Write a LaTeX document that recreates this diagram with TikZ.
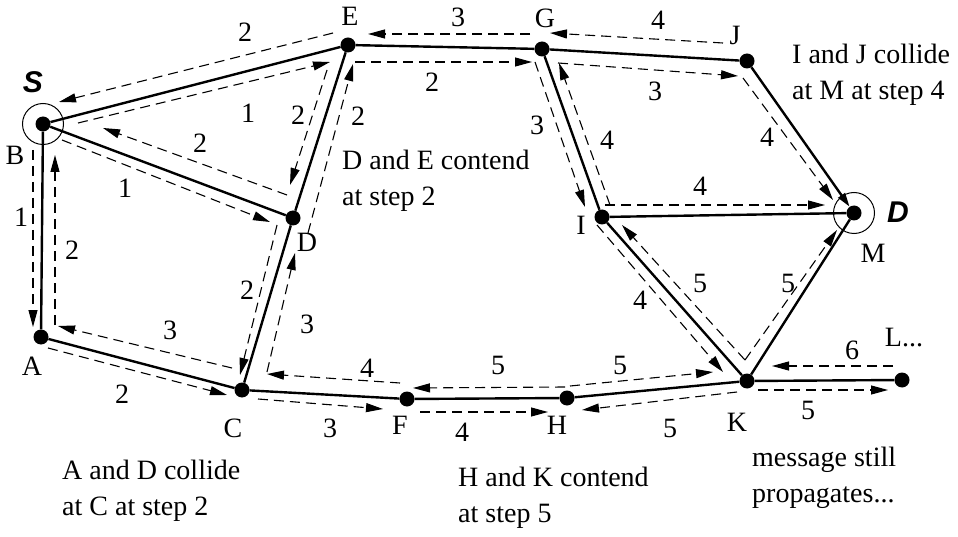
\documentclass[tikz,border=0pt]{standalone}
\usepackage{fontspec}
\setmainfont{Liberation Serif}
\setsansfont{Liberation Sans}
\usetikzlibrary{arrows.meta}

\begin{document}
\begin{tikzpicture}[x=1pt,y=-1pt,
  every node/.style={font=\fontsize{28}{34}\selectfont},
  vtx/.style={circle,fill=black,inner sep=0pt,minimum size=15pt},
  ring/.style={circle,draw,line width=1pt,inner sep=0pt,minimum size=41pt},
  link/.style={line width=2.4pt},
  msg/.style={line width=1.1pt,dash pattern=on 10pt off 6pt,
              -{Triangle[length=17pt,width=9pt]}},
  lbl/.style={inner sep=0pt},
  note/.style={inner sep=0pt,anchor=base west},
  endpt/.style={font=\fontsize{30}{36}\sffamily\bfseries\itshape,inner sep=0pt}
]
\useasboundingbox (0,0) rectangle (958,537);

% ---- vertices ----
\node[vtx] (B) at (43,124) {};
\node[vtx] (E) at (348,45) {};
\node[vtx] (D) at (293,218) {};
\node[vtx] (A) at (41,337) {};
\node[vtx] (C) at (242,390) {};
\node[vtx] (F) at (407,399) {};
\node[vtx] (H) at (567,398) {};
\node[vtx] (K) at (747,381) {};
\node[vtx] (L) at (902,380) {};
\node[vtx] (M) at (854,213) {};
\node[vtx] (I) at (602,217) {};
\node[vtx] (G) at (542,49) {};
\node[vtx] (J) at (747,61) {};
\node[ring] (Bring) at (B) {};
\node[ring] (Mring) at (M) {};

% ---- links ----
\draw[link] (B) -- (E);
\draw[link] (B) -- (D);
\draw[link] (B) -- (A);
\draw[link] (A) -- (C);
\draw[link] (C) -- (D);
\draw[link] (D) -- (E);
\draw[link] (E) -- (G);
\draw[link] (G) -- (J);
\draw[link,-{Triangle[length=14pt,width=8pt]}] (J) -- (M);
\draw[link] (G) -- (I);
\draw[link] (I) -- (M);
\draw[link] (I) -- (K);
\draw[link] (K) -- (M);
\draw[link] (C) -- (F);
\draw[link] (F) -- (H);
\draw[link] (H) -- (K);
\draw[link] (K) -- (L);

% ---- message transmissions ----
\draw[msg] ([shift={(-15,-12)}]E.center) -- ([shift={(16,-22)}]B.center);
\draw[msg] ([shift={(35,-1)}]B.center) -- ([shift={(-18,17)}]E.center);
\draw[msg] ([shift={(-6,-23)}]D.center) -- ([shift={(60,4)}]B.center);
\draw[msg] ([shift={(19,16)}]B.center) -- ([shift={(-23,4)}]D.center);
\draw[msg] ([shift={(-21,25)}]E.center) -- ([shift={(-3,-33)}]D.center);
\draw[msg] ([shift={(15,15)}]D.center) -- ([shift={(5,19)}]E.center);
\draw[msg] ([shift={(7,17)}]E.center) -- ([shift={(-10,13)}]G.center);
\draw[msg] ([shift={(-12,-15)}]G.center) -- ([shift={(20,-11)}]E.center);
\draw[msg] ([shift={(-24,-18)}]J.center) -- ([shift={(8,-16)}]G.center);
\draw[msg] ([shift={(16,14)}]G.center) -- ([shift={(-9,15)}]J.center);
\draw[msg] ([shift={(-4,17)}]J.center) -- ([shift={(-21,-13)}]M.center);
\draw[msg] ([shift={(-7,13)}]G.center) -- ([shift={(-17,-10)}]I.center);
\draw[msg] ([shift={(8,-12)}]I.center) -- ([shift={(17,14)}]G.center);
\draw[msg] ([shift={(3,-12)}]I.center) -- ([shift={(-29,-8)}]M.center);
\draw[msg] ([shift={(-5,8)}]I.center) -- ([shift={(-24,-9)}]K.center);
\draw[msg] ([shift={(-2,-21)}]K.center) -- ([shift={(20,8)}]I.center);
\draw[msg] ([shift={(-2,-21)}]K.center) -- ([shift={(-17,17)}]M.center);
\draw[msg] ([shift={(-9,-14)}]L.center) -- ([shift={(25,-15)}]K.center);
\draw[msg] ([shift={(11,9)}]K.center) -- ([shift={(-14,10)}]L.center);
\draw[msg] ([shift={(3,-12)}]H.center) -- ([shift={(-34,-9)}]K.center);
\draw[msg] ([shift={(-10,11)}]K.center) -- ([shift={(15,12)}]H.center);
\draw[msg] ([shift={(-2,-11)}]H.center) -- ([shift={(6,-11)}]F.center);
\draw[msg] ([shift={(13,13)}]F.center) -- ([shift={(-19,14)}]H.center);
\draw[msg] ([shift={(-7,-16)}]F.center) -- ([shift={(25,-16)}]C.center);
\draw[msg] ([shift={(16,9)}]C.center) -- ([shift={(-24,10)}]F.center);
\draw[msg] ([shift={(25,-18)}]C.center) -- ([shift={(2,35)}]D.center);
\draw[msg] ([shift={(-16,7)}]D.center) -- ([shift={(-2,-15)}]C.center);
\draw[msg] ([shift={(-10,-22)}]C.center) -- ([shift={(17,-11)}]A.center);
\draw[msg] ([shift={(7,11)}]A.center) -- ([shift={(-15,5)}]C.center);
\draw[msg] ([shift={(-10,26)}]B.center) -- ([shift={(-8,-10)}]A.center);
\draw[msg] ([shift={(14,-12)}]A.center) -- ([shift={(12,31)}]B.center);

% ---- step numbers ----
\node[lbl] (s01) at (245,32) {2};
\node[lbl] (s02) at (248,113) {1};
\node[lbl] (s03) at (200,143) {2};
\node[lbl] (s04) at (125,188) {1};
\node[lbl] (s05) at (298,115) {2};
\node[lbl] (s06) at (358,116) {2};
\node[lbl] (s07) at (432,82) {2};
\node[lbl] (s08) at (458,17) {3};
\node[lbl] (s09) at (658,20) {4};
\node[lbl] (s10) at (655,91) {3};
\node[lbl] (s11) at (767,137) {4};
\node[lbl] (s12) at (537,125) {3};
\node[lbl] (s13) at (607,140) {4};
\node[lbl] (s14) at (700,186) {4};
\node[lbl] (s15) at (640,300) {4};
\node[lbl] (s16) at (700,283) {5};
\node[lbl] (s17) at (788,283) {5};
\node[lbl] (s18) at (852,350) {6};
\node[lbl] (s19) at (808,410) {5};
\node[lbl] (s20) at (620,365) {5};
\node[lbl] (s21) at (670,428) {5};
\node[lbl] (s22) at (498,365) {5};
\node[lbl] (s23) at (462,432) {4};
\node[lbl] (s24) at (367,368) {4};
\node[lbl] (s25) at (330,428) {3};
\node[lbl] (s26) at (307,324) {3};
\node[lbl] (s27) at (247,290) {2};
\node[lbl] (s28) at (170,330) {3};
\node[lbl] (s29) at (122,394) {2};
\node[lbl] (s30) at (21,217) {1};
\node[lbl] (s31) at (72,250) {2};

% ---- vertex names ----
\node[lbl] (nB) at (15,155) {B};
\node[lbl] (nE) at (350,16) {E};
\node[lbl] (nG) at (545,18) {G};
\node[lbl] (nJ) at (735,35) {J};
\node[lbl] (nD) at (307,242) {D};
\node[lbl] (nI) at (581,225) {I};
\node[lbl] (nM) at (873,253) {M};
\node[lbl] (nA) at (32,366) {A};
\node[lbl] (nC) at (233,428) {C};
\node[lbl] (nF) at (400,425) {F};
\node[lbl] (nH) at (557,425) {H};
\node[lbl] (nK) at (737,422) {K};
\node[lbl] (nL) at (904,338) {L...};
\node[endpt] (src) at (33,82) {S};
\node[endpt] (dst) at (898,212) {D};

% ---- remarks ----
\node[note] (r1a) at (342,170) {D and E contend};
\node[note] (r1b) at (342,206) {at step 2};
\node[note] (r2a) at (792,64) {I and J collide};
\node[note] (r2b) at (792,100) {at M at step 4};
\node[note] (r3a) at (62,479) {A and D collide};
\node[note] (r3b) at (62,515) {at C at step 2};
\node[note] (r4a) at (458,486) {H and K contend};
\node[note] (r4b) at (458,522) {at step 5};
\node[note] (r5a) at (752,466) {message still};
\node[note] (r5b) at (752,502) {propagates...};
\end{tikzpicture}
\end{document}
